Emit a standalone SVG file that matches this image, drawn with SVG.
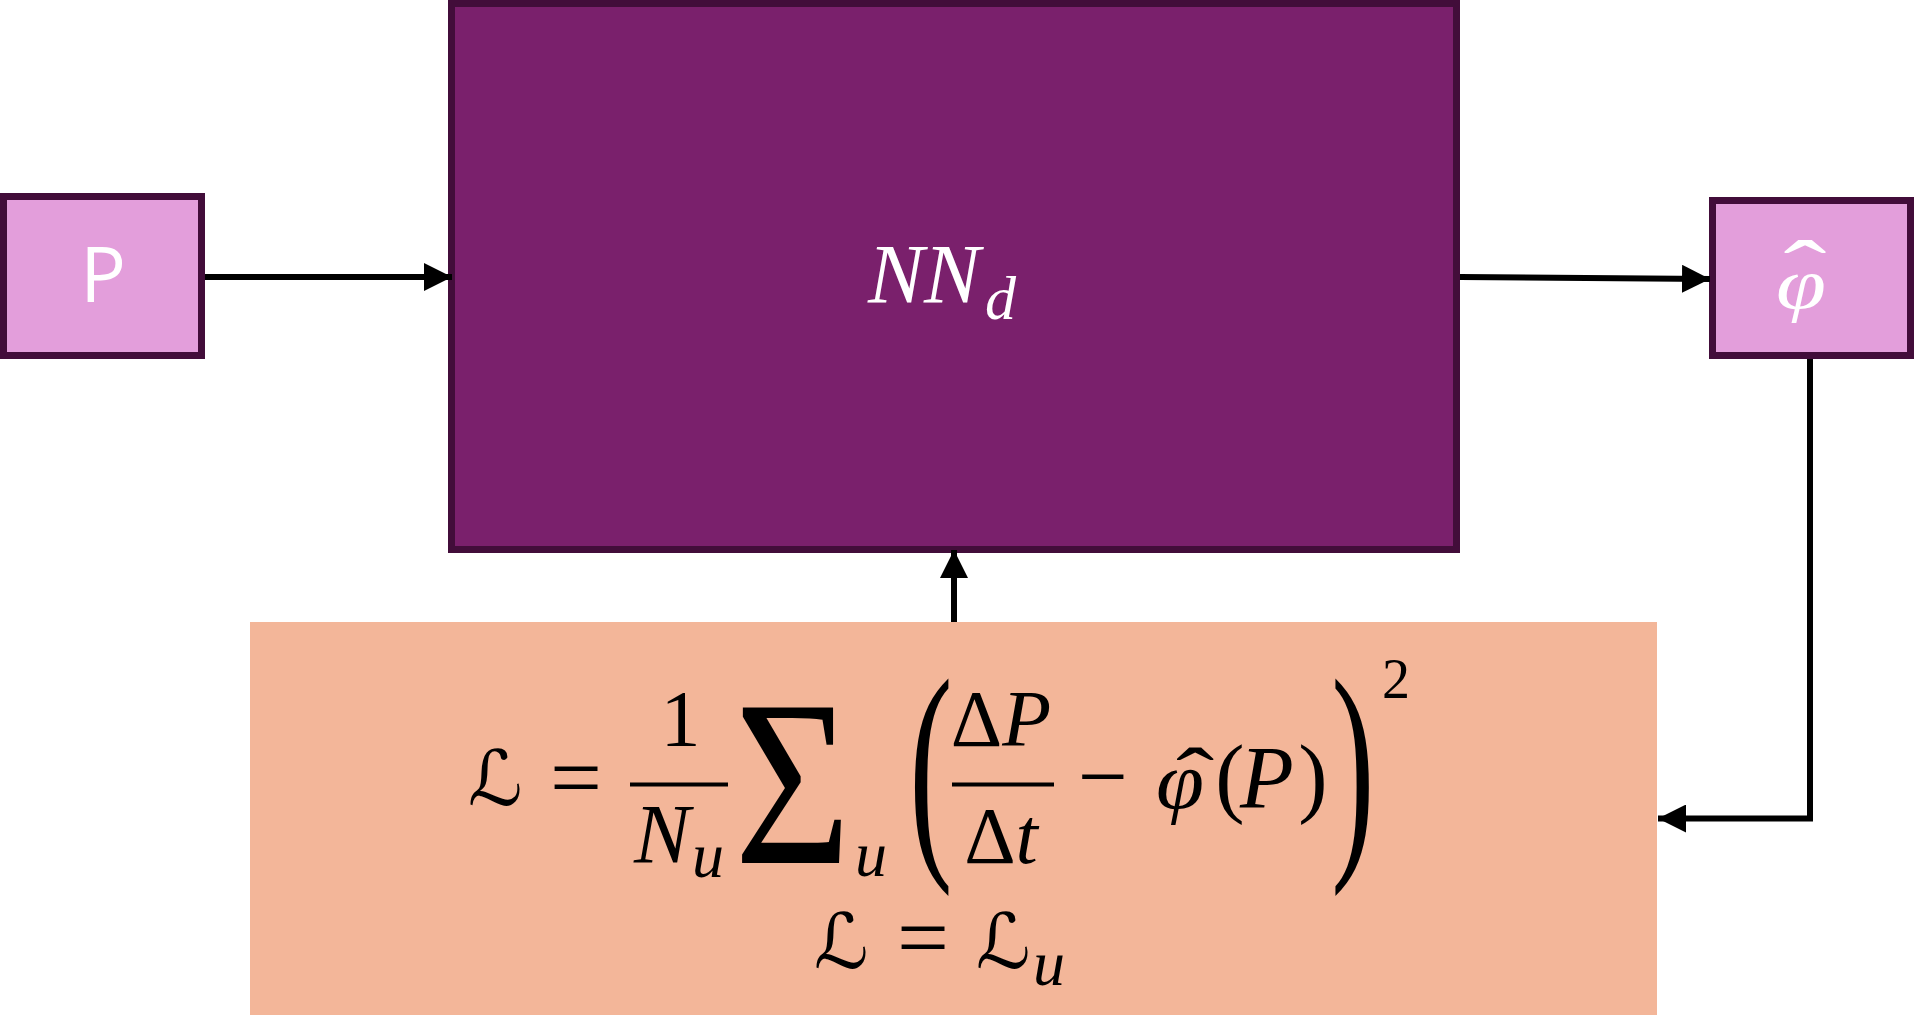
<svg xmlns="http://www.w3.org/2000/svg" width="1914" height="1015" viewBox="0 0 1914 1015">
<defs>
<style>
.box{stroke:#420D3A;stroke-width:7}
.pink{fill:#E39EDB}
.purple{fill:#7A206C}
.peach{fill:#F3B699}
.conn{stroke:#000;stroke-width:6;fill:none}
.m{font-family:"Liberation Serif","DejaVu Serif",serif;fill:#000}
.it{font-style:italic}
.scr{font-family:"DejaVu Serif","DejaVu Sans",serif;fill:#000}
.w{fill:#fff}
</style>
<marker id="ah" markerUnits="userSpaceOnUse" markerWidth="28" markerHeight="28" refX="28" refY="14" orient="auto" viewBox="0 0 28 28">
<path d="M0,0 L28,14 L0,28 z" fill="#000"/>
</marker>
</defs>
<rect width="1914" height="1015" fill="#fff"/>

<g id="loss">
<rect class="peach" x="250" y="622" width="1407" height="393"/>
<g text-anchor="middle">
<text class="scr" x="495" y="805" font-size="76">ℒ</text>
<text class="m" x="576" y="807" font-size="88" textLength="52" lengthAdjust="spacingAndGlyphs">=</text>
<rect x="630" y="782.5" width="98" height="4" fill="#000"/>
<text class="m" x="680.5" y="746" font-size="80">1</text>
<text class="m it" x="662" y="863" font-size="84">N</text>
<text class="m it" x="708" y="877" font-size="64">u</text>
<text class="m" transform="translate(792.5,863) scale(1.18,1.4)" font-size="170">Σ</text>
<text class="m it" x="871" y="876" font-size="64">u</text>
<text class="m" transform="translate(931,845) scale(1,1.85)" font-size="130">(</text>
<text class="m" x="1001" y="746" font-size="80">Δ<tspan class="it">P</tspan></text>
<rect x="952" y="782.5" width="102" height="4" fill="#000"/>
<text class="m" x="1001" y="863" font-size="80">Δ<tspan class="it">t</tspan></text>
<text class="m" x="1103" y="806" font-size="88" textLength="50" lengthAdjust="spacingAndGlyphs">−</text>
<text class="m it" x="1180" y="808" font-size="80" textLength="48" lengthAdjust="spacingAndGlyphs">φ</text>
<text class="m" transform="translate(1195,805) scale(1.4,1)" font-size="82">ˆ</text>
<text class="m" x="1230" y="806" font-size="88">(</text>
<text class="m it" x="1267" y="807" font-size="88">P</text>
<text class="m" x="1313" y="806" font-size="88">)</text>
<text class="m" transform="translate(1353,845) scale(1,1.85)" font-size="130">)</text>
<text class="m" x="1396" y="698" font-size="56">2</text>
<text class="scr" x="841" y="968" font-size="76">ℒ</text>
<text class="m" x="923" y="967" font-size="88" textLength="52" lengthAdjust="spacingAndGlyphs">=</text>
<text class="scr" x="1003" y="968" font-size="76">ℒ</text>
<text class="m it" x="1049" y="985" font-size="64">u</text>
</g>
</g>

<g id="nn">
<rect class="box purple" x="451.5" y="3.5" width="1005" height="546"/>
<text class="m it w" x="868" y="303" font-size="84">NN<tspan font-size="62" dx="5" dy="16">d</tspan></text>
</g>

<g id="p">
<rect class="box pink" x="3.5" y="196.5" width="198" height="159"/>
<text x="103" y="302" font-family="Open Sans, sans-serif" font-size="76" fill="#fff" text-anchor="middle">P</text>
</g>

<g id="phihat">
<rect class="box pink" x="1712.5" y="200.5" width="198" height="155"/>
<text class="m it w" x="1801" y="308" font-size="72" text-anchor="middle" textLength="50" lengthAdjust="spacingAndGlyphs">φ</text>
<text class="m w" transform="translate(1805,301) scale(1.5,1)" font-size="86" text-anchor="middle">ˆ</text>
</g>

<g id="connectors">
<line class="conn" x1="205" y1="277" x2="452" y2="277" marker-end="url(#ah)"/>
<line class="conn" x1="1460" y1="277" x2="1710" y2="279" marker-end="url(#ah)"/>
<line class="conn" x1="954" y1="622" x2="954" y2="550" marker-end="url(#ah)"/>
<path class="conn" d="M1810,359 L1810,818.5 L1658,818.5" marker-end="url(#ah)"/>
</g>
</svg>
